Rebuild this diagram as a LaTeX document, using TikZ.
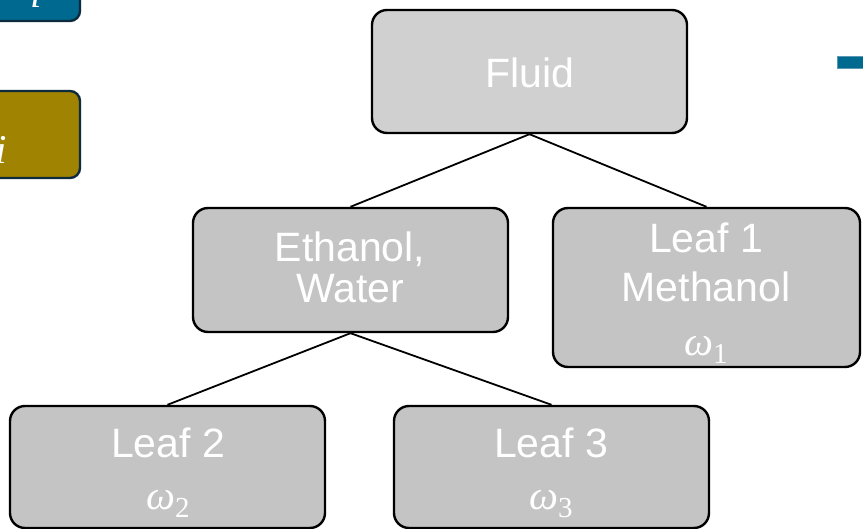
\documentclass[tikz,border=0pt]{standalone}
\usepackage{fontspec}
\setmainfont{Liberation Sans}
\newfontfamily\grkfont{Liberation Serif}
\definecolor{boxgray}{HTML}{C4C4C4}
\definecolor{rootgray}{HTML}{D0D0D0}
\definecolor{deepteal}{HTML}{00698F}
\definecolor{tealedge}{HTML}{5A98B4}
\definecolor{olive}{HTML}{A08300}
\definecolor{navy}{HTML}{0E2A3E}
% weight symbol omega with a lowered index
\newcommand{\wsym}[1]{{\grkfont\itshape ω}\raisebox{-8pt}{\grkfont\fontsize{29}{29}\selectfont #1}}
\tikzset{
  treebox/.style={draw=black, line width=2.4pt, rounded corners=15pt,
    fill=boxgray, rectangle, inner sep=0pt},
  txt/.style={text=white, anchor=base, inner sep=0pt,
    font=\fontsize{41}{41}\selectfont},
  mtxt/.style={text=white, anchor=base, inner sep=0pt,
    font=\fontsize{41}{41}\selectfont},
  link/.style={draw=black, line width=1.8pt},
  sidebox/.style={draw=navy, line width=2.4pt, rounded corners=10pt},
}
\begin{document}
\begin{tikzpicture}[x=1pt, y=-1pt]
\useasboundingbox (0,0) rectangle (863,529);

% partly visible boxes along the left edge
\path[sidebox, fill=deepteal] (-60,-40) rectangle (80,21);
\node[mtxt] (tealmark) at (36,8) {\grkfont\itshape i};
\path[sidebox, fill=olive] (-60,91) rectangle (80,178);
\node[mtxt] (olivemark) at (1,164) {\grkfont\itshape i};

% bar at the upper right
\path[fill=deepteal, draw=tealedge, line width=0.8pt] (837,56) rectangle (880,68);

% tree boxes
\node[treebox, fill=rootgray, minimum width=315pt, minimum height=123pt] (fluid) at (529.5,71.5) {};
\node[treebox, minimum width=315pt, minimum height=124pt] (mix) at (350.5,270) {};
\node[treebox, minimum width=307pt, minimum height=159pt] (leaf1) at (706.5,287.5) {};
\node[treebox, minimum width=315pt, minimum height=122pt] (leaf2) at (167.5,467) {};
\node[treebox, minimum width=315pt, minimum height=122pt] (leaf3) at (551.5,467) {};

% connectors
\draw[link] (fluid.south) -- (mix.north);
\draw[link] (fluid.south) -- (leaf1.north);
\draw[link] (mix.south) -- (leaf2.north);
\draw[link] (mix.south) -- (leaf3.north);

% labels
\node[txt] (tfluid) at (530,88) {Fluid};
\node[txt] (tmix1) at (350,262) {Ethanol,};
\node[txt] (tmix2) at (350,303) {Water};
\node[txt] (tl1a) at (706,253) {Leaf 1};
\node[txt] (tl1b) at (706,302) {Methanol};
\node[mtxt] (tl1c) at (706,356) {\wsym{1}};
\node[txt] (tl2a) at (168,458) {Leaf 2};
\node[mtxt] (tl2b) at (168,509) {\wsym{2}};
\node[txt] (tl3a) at (551,458) {Leaf 3};
\node[mtxt] (tl3b) at (551,509) {\wsym{3}};
\end{tikzpicture}
\end{document}
